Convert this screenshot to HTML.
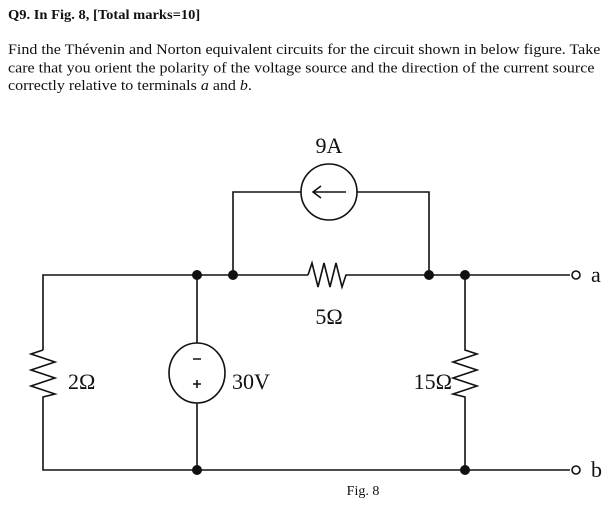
<!DOCTYPE html>
<html><head><style>
body{margin:0;width:616px;height:529px;background:#fff;overflow:hidden;font-family:"Liberation Serif",serif;color:#111}
.t{position:absolute;left:8px;font-size:16px;white-space:nowrap;transform-origin:0 0;transform:scaleY(0.92)}
</style></head><body>
<div class="t" style="top:8px;font-weight:bold;font-size:14.5px">Q9. In Fig. 8, [Total marks=10]</div>
<div class="t" style="top:41px;line-height:19.5px">Find the Thévenin and Norton equivalent circuits for the circuit shown in below figure. Take<br>care that you orient the polarity of the voltage source and the direction of the current source<br>correctly relative to terminals <i>a</i> and <i>b</i>.</div>
<svg width="616" height="529" style="position:absolute;left:0;top:0" font-family="Liberation Serif, serif">
<g stroke="#111" stroke-width="1.6" fill="none">
<path d="M43 350V275H308"/>
<path d="M308 275l4-12 6 24 6-24 6 24 6-24 6 24 4-12 H570"/>
<path d="M43 350l-12 4 24 8-24 8 24 8-24 8 24 8-12 3V470H570"/>
<path d="M465 275V350l12 4-24 8 24 8-24 8 24 8-24 8 12 3V470"/>
<path d="M197 275V343M197 403V470"/>
<ellipse cx="197" cy="373" rx="28" ry="30"/>
<path d="M233 275V192H301M357 192H429V275"/>
<circle cx="329" cy="192" r="28"/>
<path d="M346 192H313M321 186l-8 6 8 6"/>
<path d="M193 359h8M193 384h8M197 380v8"/>
<circle cx="576" cy="275" r="4"/>
<circle cx="576" cy="470" r="4"/>
</g>
<g fill="#111">
<circle cx="197" cy="275" r="5"/><circle cx="233" cy="275" r="5"/>
<circle cx="429" cy="275" r="5"/><circle cx="465" cy="275" r="5"/>
<circle cx="197" cy="470" r="5"/><circle cx="465" cy="470" r="5"/>
</g>
<g font-size="22" fill="#111">
<text x="329" y="153" text-anchor="middle">9A</text>
<text x="329" y="324" text-anchor="middle">5Ω</text>
<text x="68" y="389">2Ω</text>
<text x="232" y="389">30V</text>
<text x="452" y="389" text-anchor="end">15Ω</text>
<text x="591" y="282">a</text>
<text x="591" y="477">b</text>
</g>
<text x="363" y="495" font-size="14" text-anchor="middle" fill="#111">Fig. 8</text>
</svg>
</body></html>
